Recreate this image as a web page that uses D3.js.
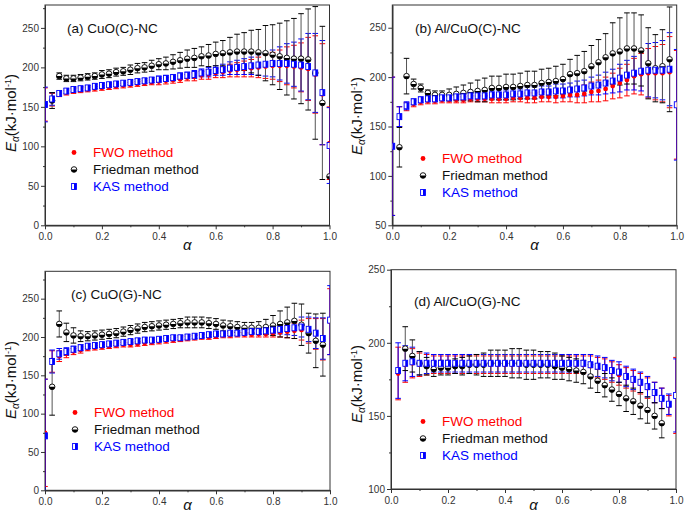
<!DOCTYPE html>
<html>
<head>
<meta charset="utf-8">
<script src="https://cdn.jsdelivr.net/npm/d3@7"></script>
<style>
body { margin: 0; background: #fff; }
text { font-family: "Liberation Sans", Arial, sans-serif; }
</style>
</head>
<body>
<div id="chart"></div>
<script>
// conversion degree (x values, same for all four panels)
var alpha = [0, 0.025, 0.05, 0.075, 0.1, 0.125, 0.15, 0.175, 0.2, 0.225, 0.25, 0.275, 0.3, 0.325, 0.35, 0.375, 0.4, 0.425, 0.45, 0.475,
             0.5, 0.525, 0.55, 0.575, 0.6, 0.625, 0.65, 0.675, 0.7, 0.725, 0.75, 0.775, 0.8, 0.825, 0.85, 0.875, 0.9, 0.925, 0.95, 0.975, 1.0];

// (a) CuO(C)-NC
var aFWO = [153,159,166,168,170,171,172,173,174,175,176,177,178,179,180,181,182,183,184,185,187,188,190,191,193,194,196,197,198,199,200,201,202,202,202,201,200,198,191,166,104];
var aFWOerr = [21,8,3,3,3,3,3,3,3,3,3,3,3,3,3,3,4,4,4,4,4,5,5,6,6,7,8,9,10,11,13,15,17,20,24,27,31,40,49,64,46];
var aFRI = [null,158,189,186,186,187,188,189,191,192,194,195,197,199,200,202,204,205,207,209,211,212,214,215,217,218,219,220,220,220,219,218,216,214,212,211,211,210,193,155,62];
var aFRIerr = [0,10,4,4,4,4,4,4,5,5,5,5,6,6,6,7,7,8,9,10,11,12,12,14,15,16,19,22,24,27,29,35,38,42,47,51,57,64,84,97,0];
var aKAS = [153,160,167,170,172,173,174,176,177,178,179,180,181,182,183,184,185,186,187,189,190,191,193,194,196,197,199,200,201,202,203,204,205,205,205,204,203,201,193,168,101];
var aKASerr = [22,8,3,3,3,3,3,3,3,3,3,3,3,3,3,3,4,4,4,4,4,5,5,6,6,7,8,9,10,11,13,15,17,21,25,28,33,42,50,66,48];

// (b) Al/CuO(C)-NC
var bFWO = [130,160,170,173,175,176,176,177,177,177,177,178,178,178,178,178,178,179,179,179,179,180,180,180,181,182,182,183,185,186,188,191,194,197,201,203,204,204,204,205,172];
var bFWOerr = [70,10,4,3,3,3,3,3,3,3,3,3,3,3,4,4,4,4,4,5,5,5,5,6,6,7,8,9,10,11,12,13,15,16,18,21,25,27,29,36,55];
var bFRI = [null,129,201,193,189,184,182,182,182,183,184,185,186,187,189,189,190,190,191,192,192,194,195,196,198,203,204,206,211,215,220,224,226,229,229,227,214,209,211,218,null];
var bFRIerr = [0,20,18,5,4,3,4,4,6,7,8,9,11,12,12,12,13,13,13,14,14,14,14,15,15,15,18,20,21,23,24,31,34,36,36,36,36,34,37,53,0];
var bKAS = [130,160,171,175,177,178,178,179,179,180,180,181,181,181,182,182,182,183,183,184,184,185,185,186,186,187,188,189,191,192,194,196,199,202,204,206,207,207,207,208,172];
var bKASerr = [70,10,4,3,3,3,3,3,3,3,3,4,4,4,4,5,5,5,5,6,6,6,6,7,7,7,8,8,9,10,11,12,14,15,17,20,27,28,30,37,56];

// (c) CuO(G)-NC
var cFWO = [75,168,175,178,181,183,185,186,187,188,189,190,190,191,192,193,194,195,196,197,198,199,200,200,201,202,202,203,203,203,204,204,205,206,207,208,209,208,204,197,220];
var cFWOerr = [70,14,7,5,4,4,3,3,3,3,3,3,3,3,3,3,3,3,3,3,3,3,3,3,3,3,3,3,3,3,4,4,5,6,8,10,13,16,20,27,43];
var cFRI = [null,135,217,206,202,201,201,202,203,204,205,207,209,211,213,214,215,216,217,218,219,219,219,218,217,215,214,213,212,212,212,213,215,217,219,221,216,205,195,190,null];
var cFRIerr = [0,37,17,12,10,7,6,6,6,6,6,6,6,6,6,6,6,6,6,6,7,7,7,7,7,7,7,7,7,7,8,10,13,17,20,23,27,26,35,41,0];
var cKAS = [71,168,178,181,184,186,188,189,190,191,192,193,194,195,196,196,197,198,199,199,200,201,202,203,204,204,205,205,206,207,207,208,209,210,211,212,213,210,205,198,222];
var cKASerr = [74,15,7,5,4,4,3,3,3,3,3,3,3,3,3,3,3,3,3,3,3,3,3,3,3,3,3,3,3,3,4,4,5,6,8,10,13,16,20,27,45];

// (d) Al/CuO(G)-NC
var dFWO = [null,179,185,186,185,185,185,185,185,185,185,185,185,185,185,185,185,185,185,185,185,185,185,185,185,185,185,185,184,183,182,180,178,176,174,172,169,166,162,157,164];
var dFWOerr = [0,18,12,10,8,7,6,6,6,6,6,6,6,6,6,6,6,6,6,6,6,6,6,6,6,6,6,6,7,7,7,7,7,7,7,7,7,7,7,7,26];
var dFRI = [null,null,196,191,186,184,182,183,183,184,184,185,185,185,186,186,186,186,186,185,185,185,185,184,183,182,181,180,177,174,171,168,165,162,160,157,154,150,145,null,null];
var dFRIerr = [0,0,15,11,8,6,5,5,5,5,6,6,7,8,9,9,9,10,10,10,10,9,9,9,8,8,8,8,8,8,8,8,8,9,9,9,9,9,10,0,0];
var dKAS = [null,181,186,187,186,186,186,186,186,186,186,186,186,186,186,186,186,186,186,186,186,186,186,186,186,186,186,186,185,184,183,181,180,177,175,173,170,166,162,158,164];
var dKASerr = [0,19,12,10,8,7,6,6,6,6,6,6,6,6,6,6,6,6,6,6,6,6,6,6,6,6,6,6,7,7,7,7,7,7,7,7,7,7,7,7,25];

// tick values
var xMajor = [0, 0.2, 0.4, 0.6, 0.8, 1.0];
var xMinor = [0.1, 0.3, 0.5, 0.7, 0.9];
var acYMajor = [0, 50, 100, 150, 200, 250];
var acYMinor = [25, 75, 125, 175, 225, 275];
var bYMajor = [50, 100, 150, 200, 250];
var bYMinor = [75, 125, 175, 225];
var dYMajor = [100, 150, 200, 250];
var dYMinor = [125, 175, 225];

var legendNames = ["FWO method", "Friedman method", "KAS method"];
var red = "#ff0000", blue = "#0000ff";

var svgWidth = 685, svgHeight = 518;
var svg = d3.select("#chart").append("svg")
  .attr("width", svgWidth)
  .attr("height", svgHeight)
  .style("background", "#fff");

var panels = [
  { key: "a", title: "(a) CuO(C)-NC", left: 45, right: 329.5, top: 5, bottom: 225.3, yDomain: [0, 279],
    yMajor: acYMajor, yMinor: acYMinor, titleX: 67, titleY: 33, legX: 74, legY: 157, yLabX: 16, yLabY: 113, xLabY: 250,
    fwo: aFWO, fwoErr: aFWOerr, fri: aFRI, friErr: aFRIerr, kas: aKAS, kasErr: aKASerr },
  { key: "b", title: "(b) Al/CuO(C)-NC", left: 392.3, right: 676.7, top: 5, bottom: 225.3, yDomain: [50, 273],
    yMajor: bYMajor, yMinor: bYMinor, titleX: 415, titleY: 33, legX: 423, legY: 163, yLabX: 362, yLabY: 116, xLabY: 250,
    fwo: bFWO, fwoErr: bFWOerr, fri: bFRI, friErr: bFRIerr, kas: bKAS, kasErr: bKASerr },
  { key: "c", title: "(c) CuO(G)-NC", left: 45, right: 330, top: 271.3, bottom: 490.3, yDomain: [0, 285.7],
    yMajor: acYMajor, yMinor: acYMinor, titleX: 71, titleY: 299, legX: 75, legY: 417, yLabX: 16, yLabY: 380, xLabY: 510,
    fwo: cFWO, fwoErr: cFWOerr, fri: cFRI, friErr: cFRIerr, kas: cKAS, kasErr: cKASerr },
  { key: "d", title: "(d) Al/CuO(G)-NC", left: 391, right: 676, top: 269.7, bottom: 489, yDomain: [100, 250],
    yMajor: dYMajor, yMinor: dYMinor, titleX: 414, titleY: 306, legX: 423, legY: 426, yLabX: 362, yLabY: 384, xLabY: 510,
    fwo: dFWO, fwoErr: dFWOerr, fri: dFRI, friErr: dFRIerr, kas: dKAS, kasErr: dKASerr }
];

// marker drawing helpers
function drawFWO(sel) {
  sel.append("circle").attr("r", 2.4).attr("fill", red);
}
function drawFRI(sel) {
  var r = 2.8;
  sel.append("circle").attr("r", r).attr("fill", "#fff").attr("stroke", "#000").attr("stroke-width", 0.9);
  sel.append("path").attr("d", "M" + (-r) + ",0 A" + r + "," + r + " 0 0 0 " + r + ",0 Z").attr("fill", "#000");
}
function drawKAS(sel) {
  sel.append("rect").attr("x", -2.4).attr("y", -3).attr("width", 4.8).attr("height", 6)
    .attr("fill", "#fff").attr("stroke", blue).attr("stroke-width", 0.9);
  sel.append("rect").attr("x", 0).attr("y", -3).attr("width", 2.4).attr("height", 6).attr("fill", blue);
}

function toPoints(vals, errs) {
  var pts = [];
  vals.forEach(function(v, i) {
    if (v !== null) pts.push({ a: alpha[i], v: v, e: errs[i] });
  });
  return pts;
}

function drawPanel(p) {
  var x = d3.scaleLinear().domain([0, 1]).range([p.left, p.right]);
  var y = d3.scaleLinear().domain(p.yDomain).range([p.bottom, p.top]);
  var g = svg.append("g");

  // clip the data to the frame
  g.append("clipPath").attr("id", "clip-" + p.key)
    .append("rect").attr("x", p.left).attr("y", p.top)
    .attr("width", p.right - p.left).attr("height", p.bottom - p.top);

  // axes
  var bottomAxis = d3.axisBottom(x).tickValues(xMajor).tickFormat(d3.format(".1f")).tickSize(4).tickSizeOuter(0).tickPadding(4);
  var bottomMinor = d3.axisBottom(x).tickValues(xMinor).tickFormat("").tickSize(2).tickSizeOuter(0);
  var leftAxis = d3.axisLeft(y).tickValues(p.yMajor).tickFormat(d3.format("d")).tickSize(4).tickSizeOuter(0).tickPadding(2);
  var leftMinor = d3.axisLeft(y).tickValues(p.yMinor).tickFormat("").tickSize(2).tickSizeOuter(0);

  [bottomAxis, bottomMinor].forEach(function(ax) {
    g.append("g").attr("class", "axis").attr("transform", "translate(0," + p.bottom + ")").call(ax);
  });
  [leftAxis, leftMinor].forEach(function(ax) {
    g.append("g").attr("class", "axis").attr("transform", "translate(" + p.left + ",0)").call(ax);
  });
  g.selectAll(".axis path, .axis line").attr("stroke", "#333");
  g.selectAll(".axis text").attr("fill", "#333").style("font-size", "10px").style("font-family", "'Liberation Sans', Arial, sans-serif");

  // frame
  g.append("rect").attr("x", p.left).attr("y", p.top)
    .attr("width", p.right - p.left).attr("height", p.bottom - p.top)
    .attr("fill", "none").attr("stroke", "#333").attr("stroke-width", 1);

  var plot = g.append("g").attr("clip-path", "url(#clip-" + p.key + ")");

  var series = [
    { pts: toPoints(p.fwo, p.fwoErr), bar: red, cap: red, draw: drawFWO },
    { pts: toPoints(p.kas, p.kasErr), bar: blue, cap: blue, draw: drawKAS },
    { pts: toPoints(p.fri, p.friErr), bar: "#555", cap: "#000", draw: drawFRI }
  ];

  // error bars
  series.forEach(function(s) {
    var bars = s.pts.filter(function(d) { return d.e > 0; });
    plot.selectAll(null).data(bars).enter().append("line")
      .attr("x1", d => x(d.a)).attr("x2", d => x(d.a))
      .attr("y1", d => y(d.v - d.e)).attr("y2", d => y(d.v + d.e))
      .attr("stroke", s.bar).attr("stroke-width", 1);
    [-1, 1].forEach(function(sign) {
      plot.selectAll(null).data(bars).enter().append("line")
        .attr("x1", d => x(d.a) - 2.8).attr("x2", d => x(d.a) + 2.8)
        .attr("y1", d => y(d.v + sign * d.e)).attr("y2", d => y(d.v + sign * d.e))
        .attr("stroke", s.cap).attr("stroke-width", 1);
    });
  });

  // markers: FWO, Friedman, KAS
  [series[0], series[2], series[1]].forEach(function(s) {
    plot.selectAll(null).data(s.pts).enter().append("g")
      .attr("transform", d => "translate(" + x(d.a) + "," + y(d.v) + ")")
      .call(s.draw);
  });

  // panel title
  g.append("text").attr("x", p.titleX).attr("y", p.titleY)
    .style("font-size", "13.5px").attr("fill", "#111").text(p.title);

  // legend
  var legColors = [red, "#111", blue];
  var legDraw = [drawFWO, drawFRI, drawKAS];
  legendNames.forEach(function(name, i) {
    var ly = p.legY + i * 17;
    g.append("g").attr("transform", "translate(" + p.legX + "," + (ly - 4.5) + ")").call(legDraw[i]);
    g.append("text").attr("x", p.legX + 19).attr("y", ly)
      .style("font-size", "13.5px").attr("fill", legColors[i]).text(name);
  });

  // axis titles
  var yl = g.append("text")
    .attr("transform", "translate(" + p.yLabX + "," + p.yLabY + ") rotate(-90)")
    .attr("text-anchor", "middle").style("font-size", "15px").attr("fill", "#111");
  yl.append("tspan").style("font-style", "italic").text("E");
  yl.append("tspan").style("font-style", "italic").style("font-size", "10px").attr("dy", 3).text("α");
  yl.append("tspan").attr("dy", -3).text("(kJ·mol");
  yl.append("tspan").style("font-size", "9px").attr("dy", -5).text("-1");
  yl.append("tspan").attr("dy", 5).text(")");

  g.append("text").attr("x", (p.left + p.right) / 2).attr("y", p.xLabY)
    .attr("text-anchor", "middle").style("font-size", "15px").style("font-style", "italic")
    .attr("fill", "#111").text("α");
}

panels.forEach(drawPanel);
</script>
</body>
</html>
